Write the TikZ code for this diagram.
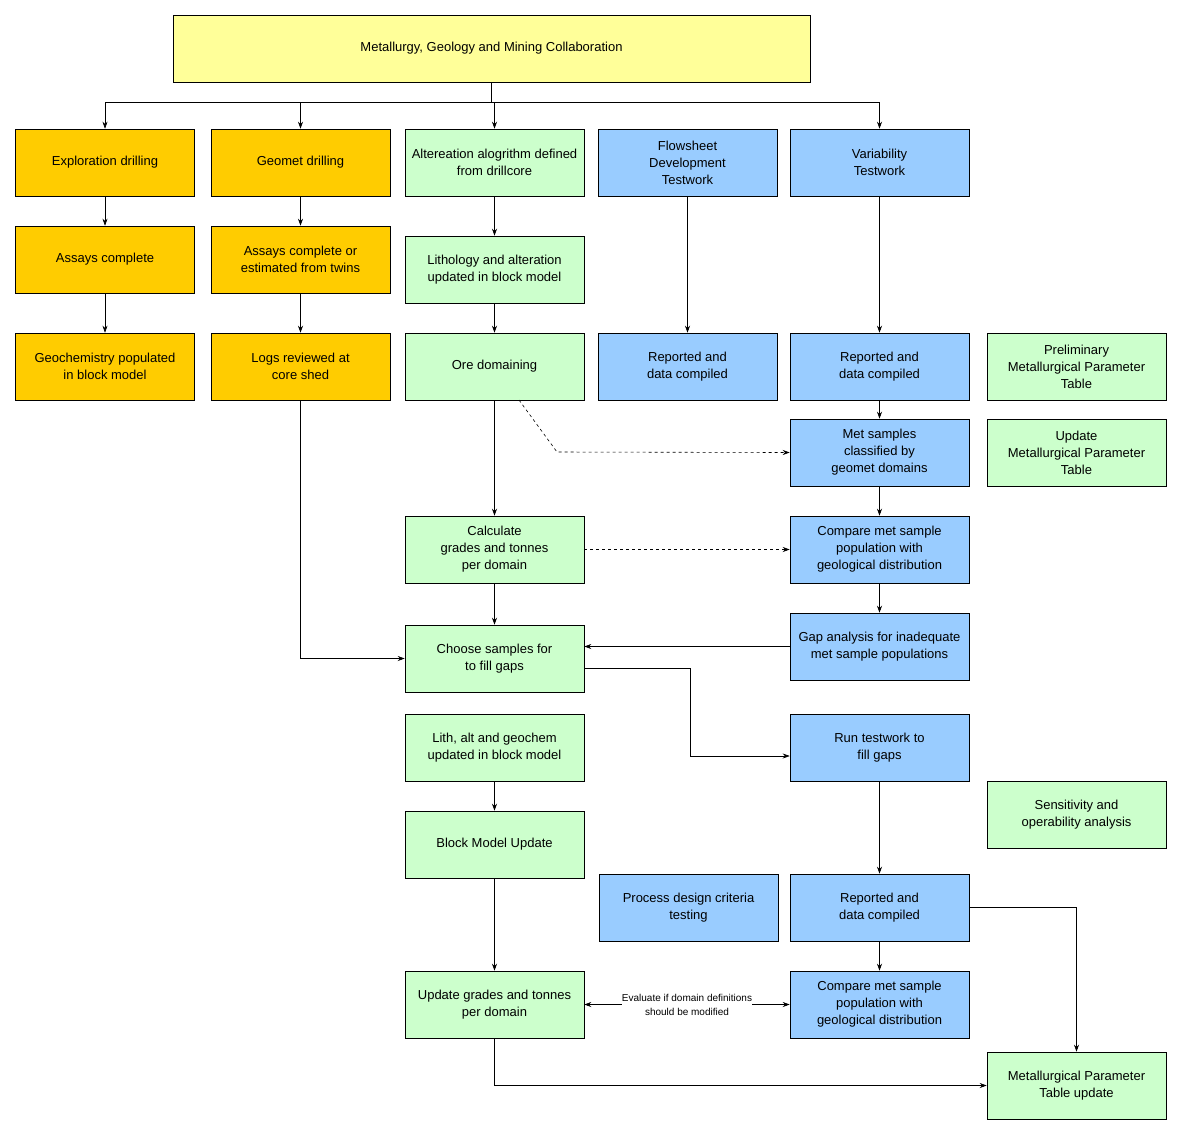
\documentclass[tikz,border=0pt]{standalone}
\usepackage{fontspec}
\setmainfont{Liberation Sans}
\usetikzlibrary{arrows.meta}
\definecolor{org}{HTML}{FFCC00}
\definecolor{grn}{HTML}{CCFFCC}
\definecolor{blu}{HTML}{99CCFF}
\definecolor{yel}{HTML}{FFFF99}
\begin{document}
\begin{tikzpicture}[x=1pt,y=-1pt,
 box/.style={draw,minimum width=179pt,minimum height=67pt,align=center,inner sep=1pt,font=\fontsize{13}{17}\selectfont},
 o/.style={box,fill=org}, g/.style={box,fill=grn}, b/.style={box,fill=blu},
 ar/.style={-{Stealth[length=7pt,width=5pt]},line width=0.6pt},
 line width=0.6pt]
\useasboundingbox (0,0) rectangle (1182,1135);
\node[box,fill=yel,minimum width=637pt] (top) at (491.5,48.5) {Metallurgy, Geology and Mining Collaboration};
\node[o] (expl) at (105,162.5) {Exploration drilling};
\node[o] (as1) at (105,259.5) {Assays complete};
\node[o] (geo) at (105,366.5) {Geochemistry populated\\in block model};
\node[o] (gd) at (300.5,162.5) {Geomet drilling};
\node[o] (as2) at (300.5,259.5) {Assays complete or\\estimated from twins};
\node[o] (logs) at (300.5,366.5) {Logs reviewed at\\core shed};
\node[g] (alt) at (494.5,162.5) {Altereation alogrithm defined\\from drillcore};
\node[g] (lith) at (494.5,269.5) {Lithology and alteration\\updated in block model};
\node[g] (ore) at (494.5,366.5) {Ore domaining};
\node[g] (calc) at (494.5,549.5) {Calculate\\grades and tonnes\\per domain};
\node[g] (choose) at (494.5,658.5) {Choose samples for\\to fill gaps};
\node[g] (lag) at (494.5,747.5) {Lith, alt and geochem\\updated in block model};
\node[g] (bmu) at (494.5,844.5) {Block Model Update};
\node[g] (ugt) at (494.5,1004.5) {Update grades and tonnes\\per domain};
\node[b] (flow) at (687.5,162.5) {Flowsheet\\Development\\Testwork};
\node[b] (rep1) at (687.5,366.5) {Reported and\\data compiled};
\node[b] (pdc) at (688.5,907.5) {Process design criteria\\testing};
\node[b] (var) at (879.5,162.5) {Variability\\Testwork};
\node[b] (rep2) at (879.5,366.5) {Reported and\\data compiled};
\node[b] (met) at (879.5,452.5) {Met samples\\classified by\\geomet domains};
\node[b] (cmp1) at (879.5,549.5) {Compare met sample\\population with\\geological distribution};
\node[b] (gap) at (879.5,646.5) {Gap analysis for inadequate\\met sample populations};
\node[b] (run) at (879.5,747.5) {Run testwork to\\fill gaps};
\node[b] (rep3) at (879.5,907.5) {Reported and\\data compiled};
\node[b] (cmp2) at (879.5,1004.5) {Compare met sample\\population with\\geological distribution};
\node[g] (pmp) at (1076.5,366.5) {Preliminary\\Metallurgical Parameter\\Table};
\node[g] (ump) at (1076.5,452.5) {Update\\Metallurgical Parameter\\Table};
\node[g] (sens) at (1076.5,814.5) {Sensitivity and\\operability analysis};
\node[g] (mpu) at (1076.5,1085.5) {Metallurgical Parameter\\Table update};
\coordinate (j) at (491.5,102);
\draw (top.south) -- (j);
\draw (105,102) -- (879.5,102);
\draw[ar] (105,102) -- (expl.north);
\draw[ar] (300.5,102) -- (gd.north);
\draw[ar] (494.5,102) -- (alt.north);
\draw[ar] (879.5,102) -- (var.north);
\draw[ar] (expl) -- (as1); \draw[ar] (as1) -- (geo);
\draw[ar] (gd) -- (as2); \draw[ar] (as2) -- (logs);
\draw[ar] (logs.south) |- (choose.west);
\draw[ar] (alt) -- (lith); \draw[ar] (lith) -- (ore);
\draw[ar] (ore) -- (calc); \draw[ar] (calc) -- (choose);
\draw[ar] (flow) -- (rep1);
\draw[ar] (var) -- (rep2); \draw[ar] (rep2) -- (met);
\draw[ar] (met) -- (cmp1); \draw[ar] (cmp1) -- (gap);
\draw[ar] (gap.west) -- (choose.east|-gap.west);
\draw[ar,dashed] (519,400) -- (557,452) -- (met.west);
\draw[ar,dashed] (calc) -- (cmp1);
\draw[ar] (584,668) -| (690,756) -- (run.west|-0,756);
\draw[ar] (run) -- (rep3);
\draw[ar] (lag) -- (bmu); \draw[ar] (bmu) -- (ugt);
\draw[ar] (rep3) -- (cmp2);
\draw[ar] (rep3.east) -| (mpu.north);
\draw[{Stealth[length=7pt,width=5pt]}-{Stealth[length=7pt,width=5pt]}] (ugt) -- node[align=center,font=\fontsize{10}{14}\selectfont,fill=white,inner sep=0pt] {Evaluate if domain definitions\\should be modified} (cmp2);
\draw[ar] (ugt.south) |- (mpu.west);
\end{tikzpicture}
\end{document}
